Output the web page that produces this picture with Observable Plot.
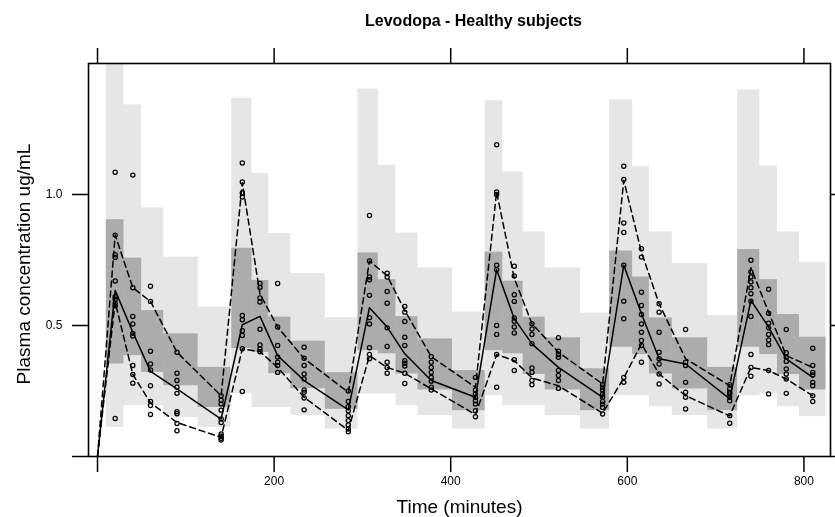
<!DOCTYPE html>
<html><head><meta charset="utf-8">
<script src="https://cdn.jsdelivr.net/npm/d3@7"></script>
<script src="https://cdn.jsdelivr.net/npm/@observablehq/plot@0.6"></script>
<style>
body{margin:0;background:#fff;}
#chart svg{font-family:"Liberation Sans",Arial,Helvetica,sans-serif;}
</style>
</head><body><div id="chart"></div>
<script>
const title = "Levodopa - Healthy subjects";
const xLabel = "Time (minutes)";
const yLabel = "Plasma concentration ug/mL";
const xTicks = [0, 200, 400, 600, 800];
const yTicks = [0, 0.5, 1.0];

// bins (minutes)
const binStart = [10,30,50,75,114, 152,175,194,219,258, 295,318,338,363,402, 439,459,482,507,547, 580,606,625,651,691, 725,750,770,795];
const binEnd   = [30,50,75,114,151, 175,194,219,258,295, 318,338,363,402,439, 459,482,507,547,580, 606,625,651,691,725, 750,770,795,825];
// CI of simulated upper percentile
const upLo  = [0.656,0.589,0.449,0.379,0.283, 0.614,0.545,0.392,0.366,0.25, 0.608,0.545,0.436,0.398,0.30, 0.615,0.56,0.44,0.39,0.283, 0.62,0.56,0.44,0.39,0.29, 0.62,0.56,0.44,0.39];
const upHi  = [1.5,1.342,0.949,0.761,0.570, 1.367,1.08,0.851,0.698,0.53, 1.402,1.112,0.853,0.72,0.551, 1.358,1.086,0.857,0.72,0.547, 1.361,1.106,0.857,0.736,0.538, 1.399,1.108,0.857,0.74];
// CI of simulated median
const medLo = [0.353,0.385,0.321,0.270,0.187, 0.412,0.397,0.316,0.259,0.18, 0.404,0.392,0.315,0.254,0.175, 0.404,0.392,0.313,0.254,0.175, 0.417,0.389,0.315,0.258,0.175, 0.417,0.389,0.313,0.254];
const medHi = [0.904,0.757,0.557,0.468,0.340, 0.795,0.672,0.532,0.44,0.32, 0.777,0.675,0.534,0.449,0.328, 0.78,0.669,0.532,0.453,0.335, 0.784,0.685,0.529,0.453,0.34, 0.79,0.675,0.542,0.455];
// CI of simulated lower percentile
const lowLo = [0.111,0.194,0.194,0.149,0.111, 0.24,0.187,0.187,0.156,0.105, 0.239,0.239,0.194,0.156,0.105, 0.232,0.194,0.194,0.156,0.105, 0.232,0.232,0.19,0.156,0.105, 0.232,0.239,0.19,0.152];
const lowHi = [0.576,0.494,0.385,0.328,0.232, 0.527,0.48,0.346,0.316,0.22, 0.516,0.468,0.36,0.328,0.22, 0.519,0.47,0.36,0.32,0.226, 0.529,0.47,0.36,0.32,0.225, 0.53,0.48,0.36,0.32];

// observed percentiles
const sampleTimes = [0, 20,40,60,90,140, 164,184,204,234,284, 308,328,348,378,428, 452,472,492,522,572, 596,616,636,666,716, 740,760,780,810];
const obsMedian = [0, 0.634,0.474,0.325,0.258,0.143, 0.503,0.535,0.385,0.29,0.178, 0.568,0.494,0.392,0.29,0.226, 0.713,0.526,0.43,0.34,0.226, 0.73,0.545,0.373,0.353,0.22, 0.596,0.494,0.373,0.302];
const obsUpper  = [0, 0.845,0.644,0.592,0.398,0.232, 1.045,0.62,0.494,0.374,0.245, 0.746,0.69,0.557,0.381,0.264, 1.01,0.68,0.507,0.398,0.277, 1.054,0.78,0.583,0.373,0.27, 0.72,0.551,0.385,0.34];
const obsLower  = [0, 0.59,0.313,0.205,0.13,0.073, 0.411,0.40,0.34,0.226,0.10, 0.385,0.34,0.318,0.258,0.16, 0.389,0.366,0.30,0.27,0.165, 0.30,0.43,0.315,0.232,0.155, 0.34,0.328,0.296,0.232];

// observations per sampling time (sampleTimes without 0)
const obsTimes = [20,40,60,90,140, 164,184,204,234,284, 308,328,348,378,428, 452,472,492,522,572, 596,616,636,666,716, 740,760,780,810];
const obsValues = [
  [1.085,0.845,0.77,0.76,0.67,0.61,0.60,0.585,0.575,0.145],
  [1.074,0.644,0.534,0.506,0.47,0.46,0.347,0.313,0.28],
  [0.65,0.592,0.402,0.353,0.33,0.27,0.21,0.195,0.16],
  [0.398,0.318,0.29,0.264,0.241,0.171,0.163,0.126,0.098],
  [0.232,0.215,0.2,0.177,0.143,0.13,0.086,0.078,0.07,0.063],
  [1.12,1.048,1.006,0.99,0.538,0.522,0.48,0.462,0.411,0.248],
  [0.66,0.645,0.605,0.59,0.486,0.426,0.41,0.4],
  [0.66,0.494,0.424,0.38,0.36,0.347,0.321],
  [0.417,0.375,0.347,0.315,0.296,0.254,0.245,0.223,0.178],
  [0.25,0.21,0.19,0.175,0.156,0.137,0.12,0.105,0.094],
  [0.92,0.746,0.685,0.675,0.615,0.53,0.506,0.415,0.389,0.373],
  [0.70,0.685,0.63,0.585,0.491,0.42,0.36,0.34,0.318],
  [0.573,0.551,0.515,0.455,0.424,0.366,0.356,0.345,0.318,0.279],
  [0.381,0.36,0.34,0.321,0.302,0.287,0.264,0.254],
  [0.302,0.254,0.239,0.226,0.213,0.2,0.175,0.152],
  [1.19,1.01,1.0,0.73,0.713,0.5,0.466,0.389,0.264],
  [0.726,0.689,0.617,0.592,0.529,0.516,0.494,0.471,0.369,0.328],
  [0.507,0.487,0.466,0.43,0.338,0.321,0.29,0.274],
  [0.453,0.402,0.389,0.379,0.328,0.309,0.29,0.26],
  [0.274,0.264,0.254,0.239,0.226,0.21,0.2,0.187,0.162],
  [1.108,1.057,0.891,0.855,0.73,0.593,0.526,0.302,0.283],
  [0.793,0.761,0.627,0.576,0.542,0.506,0.474,0.443,0.424,0.36],
  [0.583,0.551,0.474,0.398,0.373,0.353,0.315,0.277],
  [0.485,0.36,0.347,0.283,0.245,0.226,0.181],
  [0.274,0.258,0.245,0.239,0.226,0.213,0.156,0.127],
  [0.749,0.704,0.685,0.666,0.644,0.621,0.593,0.534,0.389,0.34,0.306],
  [0.638,0.547,0.509,0.491,0.466,0.445,0.427,0.328,0.239],
  [0.485,0.396,0.379,0.363,0.334,0.315,0.296,0.241],
  [0.413,0.347,0.321,0.311,0.283,0.27,0.232,0.21]
];

const bins = binStart.map((x1, i) => ({
  x1, x2: binEnd[i],
  upLo: upLo[i], upHi: upHi[i],
  medLo: medLo[i], medHi: medHi[i],
  lowLo: lowLo[i], lowHi: lowHi[i]
}));
const lines = sampleTimes.map((t, i) => ({t, med: obsMedian[i], up: obsUpper[i], low: obsLower[i]}));
const obs = obsTimes.flatMap((t, i) => obsValues[i].map(v => ({t, v})));

const font = "Liberation Sans, Arial, Helvetica, sans-serif";
const plot = Plot.plot({
  width: 835, height: 517,
  marginLeft: 88, marginRight: 5, marginTop: 63, marginBottom: 61,
  x: {domain: [-10.2, 830.1]},
  y: {domain: [0, 1.5]},
  style: {fontFamily: font, fontSize: "12px", color: "black", background: "white"},
  marks: [
    Plot.rect(bins, {x1: "x1", x2: "x2", y1: "upLo", y2: "upHi", fill: "#e6e6e6", mixBlendMode: "multiply", clip: true}),
    Plot.rect(bins, {x1: "x1", x2: "x2", y1: "lowLo", y2: "lowHi", fill: "#e6e6e6", mixBlendMode: "multiply", clip: true}),
    Plot.rect(bins, {x1: "x1", x2: "x2", y1: "medLo", y2: "medHi", fill: "#acacac", mixBlendMode: "multiply", clip: true}),
    Plot.line(lines, {x: "t", y: "up", stroke: "black", strokeWidth: 1.5, strokeDasharray: "6,4"}),
    Plot.line(lines, {x: "t", y: "low", stroke: "black", strokeWidth: 1.5, strokeDasharray: "6,4"}),
    Plot.line(lines, {x: "t", y: "med", stroke: "black", strokeWidth: 1.5}),
    Plot.dot(obs, {x: "t", y: "v", r: 2.1, stroke: "black", strokeWidth: 1.25, fill: "none"}),
    Plot.frame({stroke: "black", strokeWidth: 1.6}),
    Plot.axisX({anchor: "bottom", ticks: xTicks, tickSize: 16, tickPadding: 4, strokeWidth: 1.5,
      tickFormat: d => d === 0 ? "" : String(d), label: null}),
    Plot.axisX({anchor: "top", ticks: xTicks, tickSize: 16, strokeWidth: 1.5, tickFormat: () => "", label: null}),
    Plot.axisY({anchor: "left", ticks: yTicks, tickSize: 16, tickPadding: 10, strokeWidth: 1.5,
      tickFormat: d => d === 0 ? "" : d.toFixed(1), label: null}),
    Plot.axisY({anchor: "right", ticks: yTicks, tickSize: 6, strokeWidth: 1.5, tickFormat: () => "", label: null}),
    Plot.text([title], {frameAnchor: "top", dx: 14, dy: -43, lineAnchor: "middle", fontSize: 16, fontWeight: "bold"}),
    Plot.text([xLabel], {frameAnchor: "bottom", dy: 50, lineAnchor: "middle", fontSize: 19}),
    Plot.text([yLabel], {frameAnchor: "left", dx: -65, dy: 4, rotate: -90, textAnchor: "middle", lineAnchor: "middle", fontSize: 19})
  ]
});
document.getElementById("chart").appendChild(plot);
</script>
</body></html>
